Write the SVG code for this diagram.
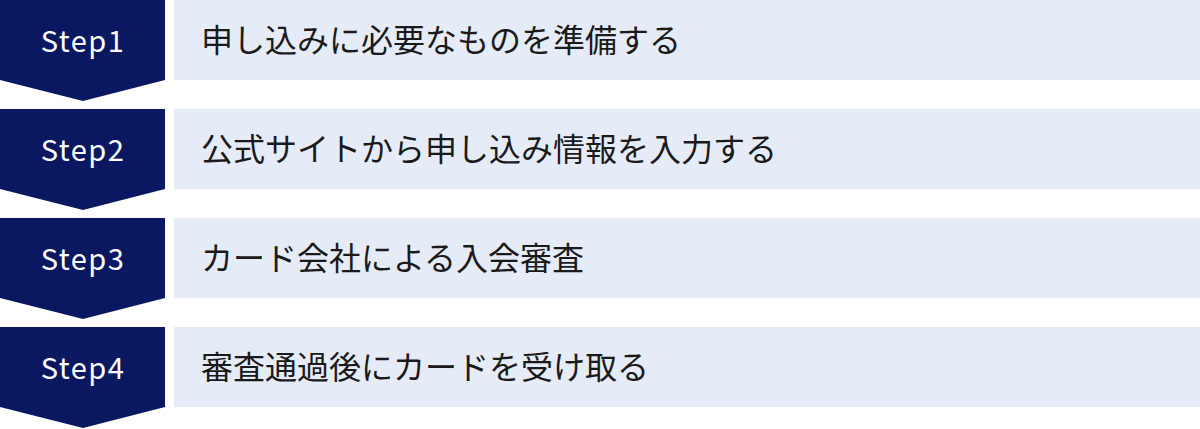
<svg xmlns="http://www.w3.org/2000/svg" width="1200" height="429" viewBox="0 0 1200 429">
<style>
.badge{fill:#0a1862}
.bar{fill:#e6ebf8}
.step{font-family:"Noto Sans CJK JP","Noto Sans",sans-serif;font-size:29px;font-weight:400;fill:#ffffff;letter-spacing:1.5px;text-anchor:middle}
.label{font-family:"Noto Sans CJK JP","Noto Sans",sans-serif;font-size:32px;font-weight:400;fill:#1a1a1a}
</style>
<rect width="1200" height="429" fill="#ffffff"/>
<g id="step1">
<polygon class="badge" points="0,0 165,0 165,80 83,101 0,80"/>
<rect class="bar" x="174" y="0" width="1026" height="80"/>
<text class="step" x="83" y="52">Step1</text>
<text class="label" x="201" y="52">申し込みに必要なものを準備する</text>
</g>
<g id="step2">
<polygon class="badge" points="0,109 165,109 165,189 83,210 0,189"/>
<rect class="bar" x="174" y="109" width="1026" height="80"/>
<text class="step" x="83" y="161">Step2</text>
<text class="label" x="201" y="161">公式サイトから申し込み情報を入力する</text>
</g>
<g id="step3">
<polygon class="badge" points="0,218 165,218 165,298 83,319 0,298"/>
<rect class="bar" x="174" y="218" width="1026" height="80"/>
<text class="step" x="83" y="270">Step3</text>
<text class="label" x="201" y="270">カード会社による入会審査</text>
</g>
<g id="step4">
<polygon class="badge" points="0,327 165,327 165,407 83,428 0,407"/>
<rect class="bar" x="174" y="327" width="1026" height="80"/>
<text class="step" x="83" y="379">Step4</text>
<text class="label" x="201" y="379">審査通過後にカードを受け取る</text>
</g>
<g id="connectors"></g>
</svg>
